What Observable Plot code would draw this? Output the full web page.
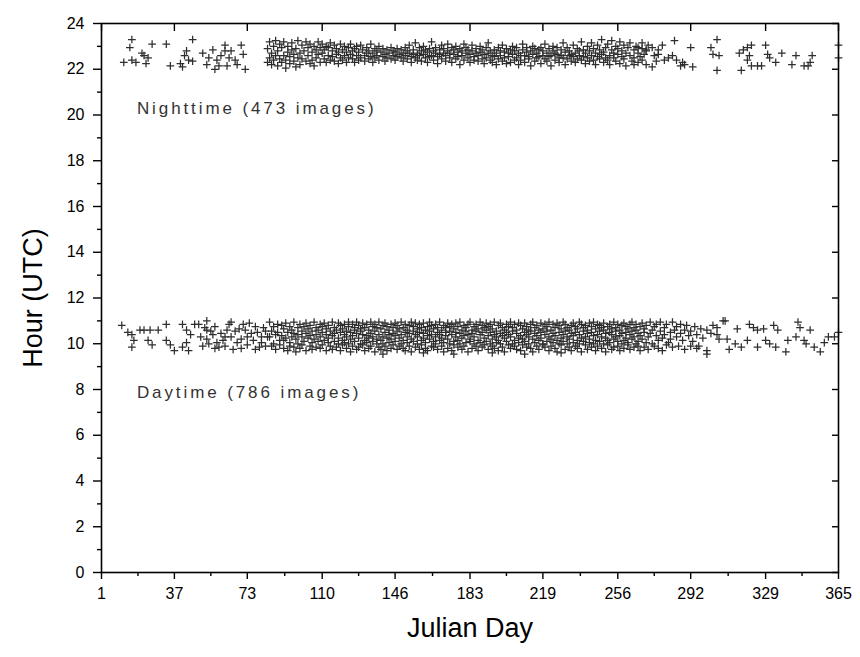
<!DOCTYPE html>
<html><head><meta charset="utf-8">
<script src="https://cdn.jsdelivr.net/npm/d3@7"></script>
<script src="https://cdn.jsdelivr.net/npm/@observablehq/plot@0.6"></script>
<style>
body{margin:0;background:#fff;}
</style></head><body><div id="chart"></div>
<script>
// Axis tick values
const xTicks = [1,37,73,110,146,183,219,256,292,329,365];
const xMinor = [19,55,91.5,128,164.5,201,237.5,274,310.5,347];
const yTicks = [0,2,4,6,8,10,12,14,16,18,20,22,24];
const yMinor = [1,3,5,7,9,11,13,15,17,19,21,23];
const notes = ["Nighttime (473 images)", "Daytime (786 images)"];

// Each row: [julian day, hour, hour, ...]
const nightRows = [
[12,22.3],[15,22.95],[16,23.3,22.4],[18,22.3],[21,22.7],[22,22.6],[23,22.25],[24,22.5],[26,23.1],[33,23.1],[35,22.15],[40,22.25],[41,22.1],[42,22.6],[43,22.8],[44,22.4],[46,23.3,22.35],[51,22.7],[53,22.2],[54,22.5],[56,22.85],[57,22.0],[58,22.4],[59,22.15],[60,22.6],[62,23.05,22.8],[63,22.15],[64,22.5],[65,22.8],[67,22.4],[68,22.2],[70,23.05],[71,22.65],[72,22.0],
[83,22.3,22.9],[84,23.2,22.5],[85,22.7,22.2],[86,23.0,22.4],[87,23.25,22.6],[88,22.8,22.15],[89,22.45,23.1],[90,22.95,22.3],[91,23.2,22.6],[92,22.4,22.05],
[93,23.0,22.75],[94,22.55,22.25],[95,23.15,22.85],[96,22.35,22.65],[97,22.9,22.1],[98,23.25,22.5],[99,22.7,22.2],[100,23.05,22.45],[101,22.8],[102,23.2,22.35],
[103,22.6,22.95],[104,22.25,23.1],[105,22.75,22.4],[106,23.0,22.15],[107,22.5,22.85],[108,23.2,22.65],[109,22.3,22.95],[110,22.7,23.1],[111,22.45,22.85],[112,23.0,22.3],
[113,22.6,22.95],[114,22.4,23.15],[115,22.8,22.55],[116,22.35,23.05],[117,22.65,22.9],[118,22.25,22.75],[119,23.1,22.5],[120,22.85,22.4],[121,22.6,23.0],[122,22.3,22.75],
[123,22.95,22.5],[124,22.65,23.1],[125,22.45,22.8],[126,22.9,22.3],[127,22.6,23.0],[128,22.75,22.4],[129,22.5,23.05],[130,22.85],[131,22.6,22.35],[132,22.95,22.7],
[133,22.45,22.8],[134,23.1,22.55],[135,22.7,22.3],[136,22.9,22.5],[137,22.6,22.8],[138,22.4,23.0],[139,22.75],[140,22.55,22.9],[141,22.65,22.35],[142,22.85,22.5],
[143,22.7],[144,22.45,22.95],[145,22.6,22.8],[146,22.75,22.4],[147,22.9,22.55],[148,22.65],[149,22.5,22.85],[150,22.7,22.35],[151,22.95,22.6],[152,22.45,22.8],
[153,22.7,23.05],[154,22.55,22.3],[155,22.85,22.65],[156,23.15,22.5],[157,22.7,22.4],[158,22.95,22.6],[159,22.35,22.8],[160,22.65,23.0],[161,22.5,22.85],[162,22.75,22.3],
[163,22.9,22.55],[164,22.6,23.2],[165,22.4,22.8],[166,22.7,22.95],[167,22.55,22.25],[168,22.85,22.65],[169,23.05,22.45],[170,22.7,22.9],[171,22.35,22.6],[172,22.8,23.1],
[173,22.5,22.7],[174,22.95,22.3],[175,22.65,22.85],[176,22.45,23.0],[177,22.75,22.55],[178,22.9,22.2],[179,22.6,22.8],[180,23.1,22.4],[181,22.7,22.95],[182,22.5,22.85],
[183,22.3,22.65],[184,22.8,23.05],[185,22.55,22.4],[186,22.9,22.7],[187,22.35,22.6],[188,22.75,23.0],[189,22.45,22.85],[190,22.65,22.25],[191,22.95,22.5],[192,22.7,23.15],
[193,22.4,22.8],[194,22.6,22.3],[195,22.85,22.55],[196,22.2,22.7],[197,22.95,22.45],[198,22.6,22.8],[199,22.35,23.05],[200,22.75,22.5],[201,22.9,22.25],[202,22.55,22.7],
[203,22.3,22.85],[204,22.65,23.0],[205,22.8,22.4],[206,22.5,22.95],[207,22.7,22.2],[208,22.4,22.6],[209,22.85,23.1],[210,22.6,22.3],[211,22.95,22.75],[212,22.45,22.55],
[213,22.8,22.15],[214,22.65,23.0],[215,22.35,22.9],[216,22.7,22.5],[217,22.55,22.85],[218,22.25,22.95],[219,22.8,22.6],[220,22.45,23.1],[221,22.7,22.35],[222,22.9,22.55],
[223,22.6,22.15],[224,22.8,23.0],[225,22.4,22.7],[226,22.65,22.95],[227,22.3,22.5],[228,22.85,22.6],[229,22.5,23.15],[230,22.75,22.2],[231,22.95,22.45],[232,22.6,22.8],
[233,22.35,22.65],[234,23.05,22.55],[235,22.7,22.3],[236,22.45,22.9],[237,22.8,22.6],[238,23.2,22.4],[239,22.55,22.85],[240,22.7,22.25],[241,23.0,22.5],[242,22.35,22.8],
[243,22.6,23.15],[244,22.9,22.4],[245,22.2,22.7],[246,23.05,22.55],[247,22.45,22.85],[248,23.3,22.65],[249,22.75,22.3],[250,22.95,22.5],[251,22.4,23.1],[252,22.6,22.2],
[253,22.85,23.25],[254,22.5,22.7],[255,23.0,22.35],[256,22.65,22.9],[257,22.25,23.2],[258,22.8,22.55],[259,22.45,23.05],[260,22.7,22.15],[261,22.95],[262,22.6,23.15],
[263,22.35],[264,22.85,22.5,22.2],[265,23.0],[266,22.7,22.3,22.95],[267,22.55],[268,22.9,22.4,23.15],[269,22.65],[270,22.8,22.2,22.85],[271,23.05],
[273,22.95,22.1],[274,22.6],[275,22.35],[276,22.65,22.85],[278,23.05],[279,22.4],[281,22.5],[283,22.6],[284,23.25],[285,22.4],[287,22.15],[288,22.3],[289,22.2],[292,22.95],[293,22.1],
[302,22.95],[303,22.65],[305,23.3,21.95],[306,22.6],[316,22.7],[317,21.95],[318,22.85],[320,22.95,22.4],[321,22.6],[322,23.05,22.15],[325,22.15],[327,22.15],[329,23.05],[330,22.65],
[331,22.5],[334,22.3],[337,22.7],[342,22.2],[344,22.6],[348,22.15],[350,22.15],[351,22.3],[352,22.6],[365,23.05,22.5]
];

const dayRows = [
[11,10.8],[14,10.5],[16,10.4,9.85],[17,10.15],[20,10.6],[22,10.6],[24,10.15],[25,10.6],[26,9.95],[29,10.6],[33,10.85,10.15],[35,9.95],[37,9.7],[41,9.85,10.85],[43,10.6,10.05],[44,9.7],[45,10.4],[47,10.85],[49,10.85],
[50,10.3],[51,9.9],[52,10.7],[53,11.0,10.6,10.2],[54,10.0],[55,10.55],[56,10.4],[57,9.8,10.75],[58,10.05],[59,9.85],[60,10.45],[61,10.15],[62,9.9,10.3],[63,10.6],[64,10.85],[65,10.3,10.95],[66,9.75],[67,10.55],[68,10.05],[69,10.65],
[70,10.2,9.8],[71,10.85],[72,10.6],[73,10.3,9.95],[74,10.9],[75,10.45],[76,10.15],[77,9.75,10.75],[78,10.5],[79,9.85],[80,10.3,10.05],[81,10.7],[82,9.9,10.55],[83,10.3],[84,10.95,10.3],
[85,10.55,9.9],[86,10.0,10.75],[87,10.4,9.75],[88,10.5,10.85],[89,10.15,9.95],[90,10.8,10.35],[91,10.15,9.8,10.65],[92,10.9,10.25],[93,9.7,10.5],[94,10.05,10.75,9.9],
[95,10.6,10.3],[96,9.85,10.95,10.45],[97,10.2,9.65],[98,10.7,10.0,10.4],[99,10.85,9.8],[100,10.3,10.55,9.95],[101,10.75,10.1],[102,9.7,10.45,10.9],[103,10.25,10.65],[104,9.9,10.8,10.35],
[105,10.05,10.55,9.75],[106,10.95,10.2],[107,10.4,9.85,10.7],[108,10.1,10.6],[109,9.8,10.85,10.3],[110,10.5,9.95,10.75],[111,10.15,10.9],[112,9.7,10.4,10.65],[113,10.05,10.8,10.25],[114,9.9,10.55],
[115,10.35,10.95,9.75],[116,10.7,10.1,10.45],[117,9.85,10.6],[118,10.25,10.9,10.0],[119,10.5,9.7,10.8],[120,10.15,10.65,9.95],[121,10.4,10.85,10.05],[122,9.8,10.55,10.3],[123,10.75,10.0,10.95],[124,10.2,9.65,10.5],
[125,10.85,10.35,9.9],[126,10.6,10.1,10.7],[127,9.75,10.45,10.95],[128,10.25,10.8,9.85],[129,10.55,10.0,10.65],[130,9.95,10.4,10.9],[131,10.7,10.15,9.7],[132,10.35,10.85,10.05],[133,9.8,10.6,10.25],[134,10.95,10.45,9.9],
[135,10.1,10.75,10.3],[136,9.65,10.55,10.85],[137,10.2,10.0,10.7],[138,10.4,9.85,10.95],[139,10.65,10.15,9.75],[140,10.8,10.3,10.0,9.55],[141,9.9,10.5,10.9],[142,10.25,10.75,9.7],[143,10.6,10.05,10.4],[144,9.8,10.85,10.2],
[145,10.45,9.95,10.7],[146,10.9,10.35,10.1],[147,9.75,10.55,10.8],[148,10.25,10.65,9.9],[149,10.0,10.95,10.4],[150,10.7,10.15,9.8],[151,10.5,9.7,10.85],[152,10.3,10.6,10.05],[153,9.9,10.8,10.45],[154,10.2,10.95,9.65],
[155,10.55,10.1,10.75],[156,9.85,10.4,10.9],[157,10.65,10.0,10.3],[158,10.85,9.75,10.5],[159,10.15,10.7,9.95],[160,10.45,10.9,10.25,9.6],[161,9.8,10.6,10.05],[162,10.75,10.35,9.7],[163,10.2,10.95,10.55],[164,9.9,10.4,10.8],
[165,10.65,10.1,9.85],[166,10.3,10.85,10.0],[167,9.75,10.5,10.7],[168,10.15,10.95,10.4],[169,10.6,9.9,10.25],[170,10.8,10.05,9.65],[171,10.35,10.7,10.5],[172,9.8,10.2,10.9],[173,10.55,10.0,10.75],[174,10.4,9.7,10.85],
[175,10.1,10.65,9.95,9.55],[176,10.9,10.3,10.5],[177,9.85,10.75,10.15],[178,10.45,10.0,10.95],[179,10.6,9.75,10.25],[180,10.8,10.35,9.9],[181,10.05,10.7,10.55],[182,9.65,10.4,10.85],[183,10.2,10.95,10.1],[184,10.6,9.8,10.45],
[185,10.75,10.0,10.3],[186,9.9,10.85,10.55],[187,10.15,10.65,9.7],[188,10.4,10.95,10.05],[189,9.85,10.5,10.8],[190,10.25,10.7,9.95],[191,10.6,10.1,10.9],[192,9.75,10.35,10.75],[193,10.5,10.0,10.85],[194,10.2,9.9,10.65,9.6],
[195,10.95,10.4,9.8],[196,10.05,10.55,10.3],[197,9.7,10.8,10.15],[198,10.45,10.9,10.0],[199,10.7,9.85,10.35],[200,10.25,10.6,9.65],[201,10.85,10.1,10.5],[202,9.95,10.4,10.75],[203,10.3,10.95,9.8],[204,10.55,10.0,10.7],
[205,10.15,10.85,9.9],[206,9.75,10.45,10.6],[207,10.9,10.25,10.05],[208,10.35,9.7,10.8],[209,10.65,10.2,9.95],[210,10.5,10.9,10.1,9.55],[211,9.85,10.4,10.75],[212,10.0,10.6,10.3],[213,10.85,9.8,10.55],[214,10.2,10.95,9.65],
[215,10.45,10.05,10.7],[216,9.9,10.35,10.8],[217,10.6,10.15,9.75],[218,10.9,10.5,10.25],[219,9.95,10.65,10.0],[220,10.4,10.85,9.85],[221,10.75,10.1,10.55],[222,9.7,10.3,10.95],[223,10.2,10.6,9.9],[224,10.85,10.45,10.05],
[225,9.8,10.7,10.35],[226,10.15,10.9,9.65],[227,10.5,10.0,10.8],[228,10.25,10.65,9.95,9.6],[229,10.95,10.4,10.1],[230,9.75,10.55,10.85],[231,10.3,10.0,10.7],[232,10.6,9.85,10.2],[233,10.8,10.45,9.7],[234,10.05,10.9,10.35],
[235,9.9,10.5,10.75],[236,10.15,10.65,9.8],[237,10.4,10.95,10.0],[238,9.65,10.25,10.85],[239,10.55,10.1,10.7],[240,9.95,10.8,10.3],[241,10.45,9.75,10.6],[242,10.2,10.9,10.05],[243,9.85,10.5,10.75],[244,10.35,10.0,10.95],
[245,10.65,9.7,10.15],[246,10.85,10.4,9.9],[247,10.1,10.55,10.8],[248,9.8,10.3,10.7],[249,10.6,10.0,10.9],[250,10.25,9.65,10.45],[251,10.75,10.15,9.95],[252,10.5,10.85,10.05],[253,9.75,10.4,10.65],[254,10.95,10.2,9.85],
[255,10.3,10.7,10.55],[256,9.9,10.1,10.85],[257,10.6,9.7,10.35],[258,10.8,10.45,10.0],[259,10.15,10.9,9.8],[260,10.5,10.25,10.75],[261,9.95,10.65,10.05],[262,10.4,10.85,9.75],[263,10.2,10.55,10.95],[264,9.85,10.3,10.7],
[265,10.6,10.0,10.85],[266,10.1,9.9,10.45],[267,10.75,10.35,9.7],[268,10.9,10.2],[269,10.5,9.85,10.65],[270,10.05,10.8],[271,10.3,9.75],[272,10.95,10.45],[273,10.6,10.0],[274,9.9,10.75],
[275,10.35,10.85],[276,10.15,9.8],[277,10.55,10.95],[278,10.25,9.7],[279,10.7,10.4],[280,10.85,9.95],[281,10.05],[282,10.5,10.2],[283,10.95,9.85],[284,10.6],
[285,10.3,10.75],[286,9.9],[287,10.45,10.85],[288,10.15],[289,10.6,9.75],[290,10.8],[291,10.35],[292,10.55,9.9],[293,10.1],[294,10.75],
[295,9.8,10.4],[296,9.9],[297,10.65],[298,10.25],[300,9.7,10.6,9.55],[302,10.45],[303,10.8],[305,10.7,10.4],[306,10.2],[308,11.0],
[309,11.0],[310,10.2],[311,9.75],[314,10.0],[315,10.65],[317,9.85],[320,10.15],[321,10.85],[323,10.7],[325,10.6,9.85],[328,10.65],[329,10.15],[331,10.0],[333,10.8],[334,9.85],[335,10.6],
[339,9.65],[340,10.15],[344,10.3],[345,10.95],[346,10.7],[348,10.15],[349,10.0],[351,10.6],[353,9.85],[356,9.65],[358,10.05],[360,10.3],[363,10.3],[365,10.5]
];

function expand(rows, group) {
  const out = [];
  for (const row of rows) for (const h of row.slice(1)) out.push({day: row[0], hour: h, group});
  return out;
}
const points = expand(nightRows, "night").concat(expand(dayRows, "day"));
const blank = () => "";

const chart = Plot.plot({
  width: 860, height: 657,
  marginLeft: 101, marginRight: 22, marginTop: 23, marginBottom: 85,
  style: {fontFamily: "'Liberation Sans', Arial, sans-serif", fontSize: "16px", color: "#000", background: "#fff", overflow: "visible"},
  x: {domain: [1, 365]},
  y: {domain: [0, 24]},
  marks: [
    Plot.dot(points, {x: "day", y: "hour", symbol: "plus", r: 2.6, stroke: "#2e2e2e", strokeWidth: 1.25}),
    Plot.frame({stroke: "#000", strokeWidth: 1.6}),
    Plot.axisX(xTicks, {anchor: "bottom", tickSize: 7, tickPadding: 8, strokeWidth: 1.4, label: null, fontSize: 16}),
    Plot.axisX(xMinor, {anchor: "bottom", tickSize: 4, tickFormat: blank, strokeWidth: 1.4, label: null}),
    Plot.axisX(xTicks, {anchor: "top", tickSize: -7, tickFormat: blank, strokeWidth: 1.4, label: null}),
    Plot.axisY(yTicks, {anchor: "left", tickSize: 8, tickPadding: 9, strokeWidth: 1.4, label: null, fontSize: 16}),
    Plot.axisY(yMinor, {anchor: "left", tickSize: 4, tickFormat: blank, strokeWidth: 1.4, label: null}),
    Plot.axisY(yTicks, {anchor: "right", tickSize: -7, tickFormat: blank, strokeWidth: 1.4, label: null}),
    Plot.text(["Julian Day"], {frameAnchor: "bottom", dy: 64, fontSize: 27}),
    Plot.text(["Hour (UTC)"], {frameAnchor: "left", dx: -68, rotate: -90, textAnchor: "middle", fontSize: 27}),
    Plot.text([notes[0]], {x: 18.5, y: 20.3, textAnchor: "start", fontSize: 17, fill: "#333"}),
    Plot.text([notes[1]], {x: 18.5, y: 7.85, textAnchor: "start", fontSize: 17, fill: "#333"})
  ]
});
d3.select(chart).selectAll("text").filter(function() { return notes.includes(this.textContent); })
  .style("letter-spacing", "2.9px");
document.getElementById("chart").appendChild(chart);
</script>
</body></html>
